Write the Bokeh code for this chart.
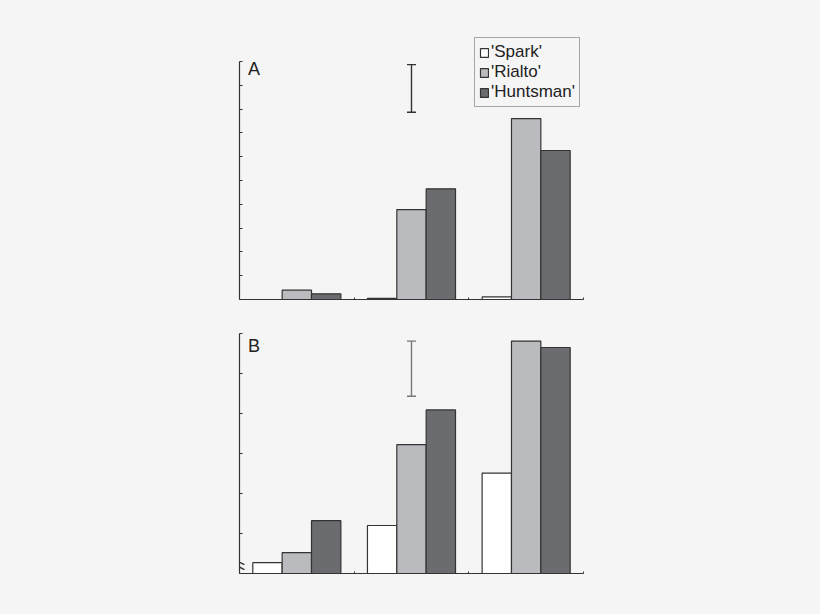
from bokeh.plotting import figure
from bokeh.layouts import column
from bokeh.models import (ColumnDataSource, FixedTicker, CustomJSTickFormatter,
                          Whisker, TeeHead, Label, Range1d, Legend, LegendItem)
from bokeh.transform import dodge
from bokeh.embed import file_html
from bokeh.resources import INLINE

# ---- data ----
groups = [0.5, 1.5, 2.5]
cultivars = ["'Spark'", "'Rialto'", "'Huntsman'"]
a_spark = [0.0, 0.05, 0.11]
a_rialto = [0.39, 3.78, 7.6]
a_huntsman = [0.24, 4.65, 6.26]
a_err = (1.5, 7.87, 9.87)   # x, lower, upper
b_spark = [0.27, 1.2, 2.51]
b_rialto = [0.52, 3.22, 5.81]
b_huntsman = [1.32, 4.09, 5.65]
b_err = (1.5, 4.43, 5.81)
break_marks_y = [0.28, 0.16]

BG = "#f5f5f5"
COLORS = ["#ffffff", "#babbbf", "#6b6c70"]
OUT = "#333333"
FONT = "Liberation Sans"
BW = 0.256


def make_panel(spark, rialto, huntsman, err, ymax, yend, label, label_y,
               frame_h, top, bottom, err_color, with_legend):
    p = figure(frame_width=348, frame_height=frame_h, output_backend="svg",
               toolbar_location=None, x_range=Range1d(0, 3.035),
               y_range=Range1d(0, yend), min_border_left=239,
               min_border_right=233, min_border_top=top,
               min_border_bottom=bottom)
    p.background_fill_color = BG
    p.border_fill_color = BG
    p.outline_line_color = None
    p.grid.grid_line_color = None
    src = ColumnDataSource(dict(x=groups, s=spark, r=rialto, h=huntsman))
    renderers = []
    for off, col, c in zip([-BW, 0, BW], ["s", "r", "h"], COLORS):
        r = p.vbar(x=dodge("x", off), top=col, width=BW, bottom=0, source=src,
                   fill_color=c, line_color=OUT, line_width=1.2)
        renderers.append(r)
    esrc = ColumnDataSource(dict(x=[err[0]], lo=[err[1]], hi=[err[2]]))
    w = Whisker(base="x", lower="lo", upper="hi", source=esrc,
                line_color=err_color, line_width=1.4,
                upper_head=TeeHead(size=9, line_color=err_color, line_width=1.4),
                lower_head=TeeHead(size=9, line_color=err_color, line_width=1.4))
    p.add_layout(w)
    # axes
    fmt = CustomJSTickFormatter(code="return ''")
    p.yaxis.ticker = FixedTicker(ticks=list(range(0, ymax + 1)))
    p.yaxis.bounds = (0, ymax)
    p.yaxis.formatter = fmt
    p.yaxis.major_tick_in = 3
    p.yaxis.major_tick_out = 0
    p.yaxis.minor_tick_line_color = None
    p.yaxis.major_label_standoff = 0
    p.xaxis.ticker = FixedTicker(ticks=[1, 2, 3])
    p.xaxis.bounds = (0, 3)
    p.xaxis.formatter = fmt
    p.xaxis.major_tick_in = 2
    p.xaxis.major_tick_out = 0
    p.xaxis.minor_tick_line_color = None
    p.xaxis.major_label_standoff = 0
    for ax in (p.xaxis, p.yaxis):
        ax.axis_line_color = OUT
        ax.major_tick_line_color = OUT
        ax.axis_line_width = 1.2
    p.add_layout(Label(x=0.075, y=label_y, text=label, text_font=FONT,
                       text_font_size="18px", text_color="#222222",
                       text_baseline="alphabetic"))
    if with_legend:
        items = [LegendItem(label=n, renderers=[r]) for n, r in zip(cultivars, renderers)]
        lg = Legend(items=items, location=(235, 192))
        lg.label_text_font = FONT
        lg.label_text_font_size = "17px"
        lg.label_text_color = "#222222"
        lg.glyph_width = 10
        lg.glyph_height = 11
        lg.label_standoff = 2
        lg.label_height = 20
        lg.spacing = 0
        lg.padding = 4
        lg.margin = 0
        lg.border_line_color = "#555555"
        lg.border_line_width = 1.2
        lg.background_fill_color = BG
        lg.background_fill_alpha = 1
        p.add_layout(lg)
    return p


pa = make_panel(a_spark, a_rialto, a_huntsman, a_err, 10, 11.05, "A", 9.7,
                263, 36, 13, "#333333", True)
pb = make_panel(b_spark, b_rialto, b_huntsman, b_err, 6, 6.2, "B", 5.68,
                248, 13, 41, "#777777", False)
# axis break marks
pb.scatter(x=[0, 0], y=break_marks_y, marker="dash", size=11, angle=-0.46,
           line_color=OUT, line_width=1.4)

layout = column(pa, pb, styles={"background-color": BG})
open("out.html", "w").write(file_html(layout, INLINE))
